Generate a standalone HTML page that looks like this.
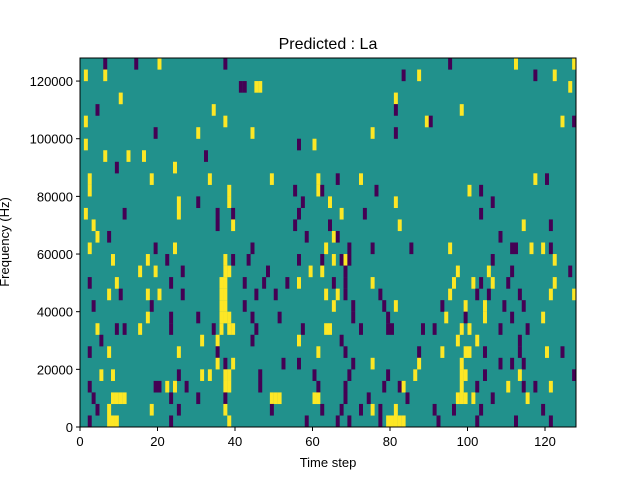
<!DOCTYPE html><html><head><style>body{margin:0;background:#fff}svg{display:block;font-family:"Liberation Sans",sans-serif}</style></head><body>
<svg id="s" width="640" height="480" xmlns="http://www.w3.org/2000/svg">
<rect x="80" y="58" width="496" height="369" fill="#21918c"/>
<g id="cells"></g>
<rect x="80" y="58" width="496" height="369" fill="none" stroke="#000" stroke-width="1"/>
<g id="ax" font-size="13" fill="#000"></g>
<text x="328" y="49" font-size="16" text-anchor="middle">Predicted : La</text>
<text x="328" y="467" font-size="13" text-anchor="middle">Time step</text>
<text transform="translate(9,242) rotate(-90)" font-size="13" text-anchor="middle">Frequency (Hz)</text>
</svg>
<script>
var d={
0:"P6 P14 Y20 P37 P95 Y112 Y127",
1:"Y1 Y6 P83 Y87 P117 Y122",
2:"P41 P42 Y45 Y46 Y126",
3:"Y10 Y81",
4:"P4 Y34 P81 Y98",
5:"Y1 Y37 Y89 P90 Y124 P127",
6:"P19 Y30 Y44 Y75 P81",
7:"Y1 P56 Y60",
8:"Y6 Y12 P32 Y16",
9:"P9 Y24",
10:"Y2 Y18 Y33 Y49 Y61 P66 Y72 Y117 P120",
11:"Y2 Y38 P55 Y61 P62 P76 Y100 P103",
12:"Y25 P30 Y38 P57 Y64 Y81 P106",
13:"Y1 P11 Y25 P35 P39 P56 Y67 P73 P103",
14:"Y3 P35 Y39 P55 P64 Y82 Y114 P121",
15:"Y4 P7 P58 Y65 P66 P108",
16:"Y2 P19 Y24 P44 Y63 P69 P75 P85 Y95 P111 P112 Y116 Y119 P121",
17:"Y8 Y17 P22 Y37 P39 P43 P56 P62 Y65 P67 Y68 P69 P106 Y122",
18:"Y15 Y19 P26 Y37 Y38 P48 Y59 Y62 P68 Y97 Y105 P111 P126",
19:"P2 Y9 P23 Y36 Y37 P42 P47 P53 Y56 P65 P68 Y75 Y96 Y101 P103 Y106 P110 Y122",
20:"Y7 P10 Y17 Y20 P26 Y36 Y37 P45 P50 Y63 Y66 P68 P77 Y95 P102 P105 P113 Y121 Y127",
21:"P3 P18 Y36 Y37 P42 Y65 P70 P78 Y81 P93 Y99 Y104 P109 P114",
22:"Y17 P23 P30 Y36 Y37 Y38 P44 P51 P70 P79 Y94 P99 Y104 P111 Y119",
23:"Y4 P9 P11 Y15 P23 P34 Y36 Y38 Y39 P45 P57 Y63 Y64 P72 P79 P80 P88 P91 Y98 Y100 P108 P115",
24:"P5 Y31 Y35 P44 Y56 P67 Y97 Y102 P113",
25:"P2 Y7 Y25 P35 Y61 P68 P87 Y93 Y99 Y100 P104 P113 Y120 P124",
26:"Y35 P37 Y39 P52 P56 P70 Y75 Y87 Y98 P108 P111 P114",
27:"Y5 Y8 P25 Y31 Y33 Y37 Y38 P46 P60 P69 P79 Y86 Y98 Y99 P104 Y113 P127",
28:"P2 P19 P20 Y22 Y24 P27 Y37 Y38 P46 P61 P68 P78 P82 Y83 Y98 P102 Y110 P114 P117 Y121",
29:"P3 Y8 Y9 Y10 Y11 P23 P30 P37 Y49 Y50 Y51 Y60 Y61 P68 P74 P84 Y97 Y98 Y99 Y101 P106 Y115",
30:"P4 Y7 Y18 P25 Y37 P49 P62 P67 P72 Y75 P77 Y81 P91 P96 P103 P119",
31:"P2 Y7 Y8 Y9 P23 Y38 P58 P66 P69 P77 Y79 Y80 Y81 Y82 Y83 P92 P102 P112 P121"};
var h="",cw=496/128,rh=369/32;
for(var r in d){d[r].split(" ").forEach(function(t){var c=+t.slice(1);
h+='<rect x="'+(80+c*cw).toFixed(2)+'" y="'+(58+r*rh).toFixed(2)+'" width="'+(cw+0.1).toFixed(2)+'" height="'+(rh+0.1).toFixed(2)+'" fill="'+(t[0]=="Y"?"#fde725":"#440154")+'"/>';});}
document.getElementById("cells").innerHTML=h;
var a="";
for(var i=0;i<=6;i++){var x=80+i*20*cw;a+='<line x1="'+x+'" y1="427" x2="'+x+'" y2="431" stroke="#000"/><text x="'+x+'" y="446" text-anchor="middle">'+(i*20)+'</text>';}
for(var i=0;i<=6;i++){var y=427-i*20000*369/128000;a+='<line x1="76" y1="'+y+'" x2="80" y2="'+y+'" stroke="#000"/><text x="73" y="'+(y+5)+'" text-anchor="end">'+(i*20000)+'</text>';}
document.getElementById("ax").innerHTML=a;
</script>
</body></html>
